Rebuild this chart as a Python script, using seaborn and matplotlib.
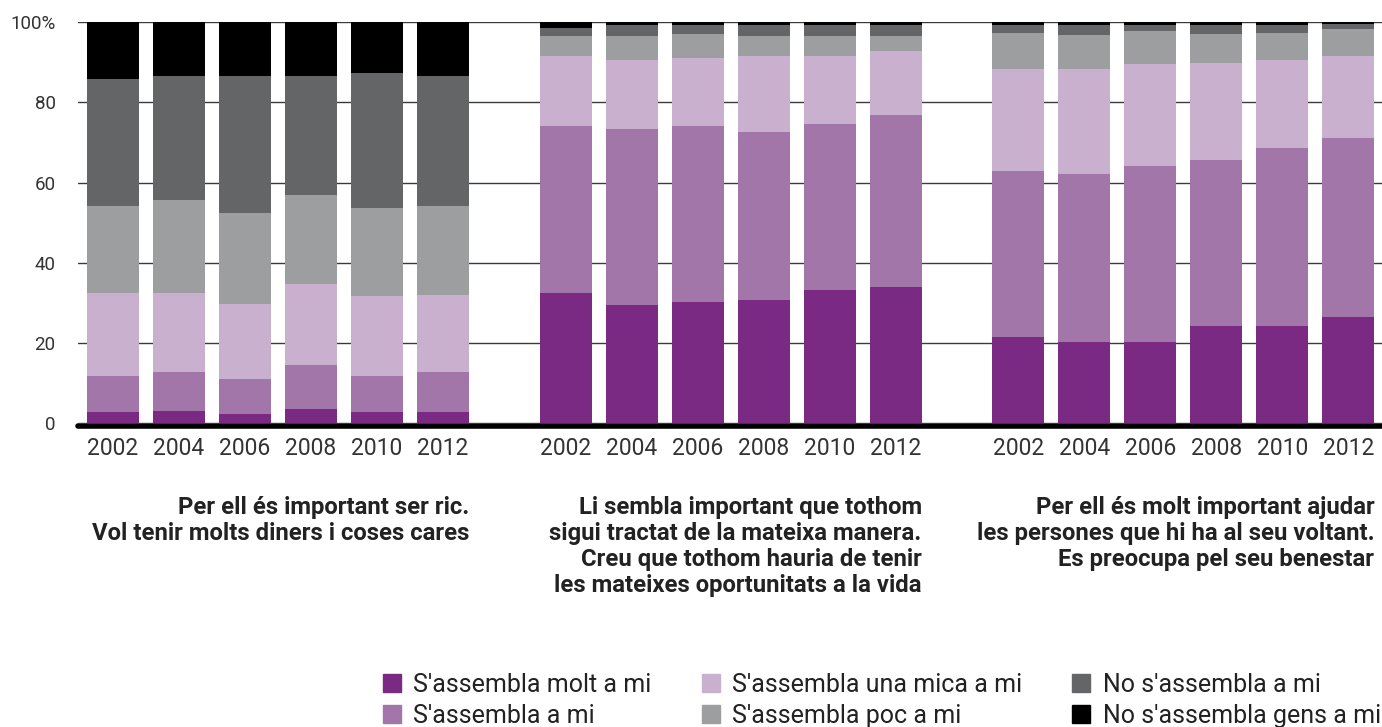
import matplotlib.pyplot as plt
import matplotlib.patches as mpatches
import numpy as np
import pandas as pd
import seaborn as sns

sns.set_style("white")
plt.rcParams['font.family'] = ['Roboto', 'DejaVu Sans']

years = ['2002', '2004', '2006', '2008', '2010', '2012']
categories = ["S'assembla molt a mi", "S'assembla a mi", "S'assembla una mica a mi",
              "S'assembla poc a mi", "No s'assembla a mi", "No s'assembla gens a mi"]
colors = ['#7b2a84', '#a276a8', '#c9b0ce', '#9d9ea0', '#646567', '#000000']
group_titles = [
    "Per ell és important ser ric.\nVol tenir molts diners i coses cares",
    "Li sembla important que tothom\nsigui tractat de la mateixa manera.\nCreu que tothom hauria de tenir\nles mateixes oportunitats a la vida",
    "Per ell és molt important ajudar\nles persones que hi ha al seu voltant.\nEs preocupa pel seu benestar",
]

# values per category: 3 groups x 6 years
molt = [2.8, 3.1, 2.3, 3.6, 2.8, 2.8,
        32.5, 29.5, 30.3, 30.7, 33.2, 33.9,
        21.5, 20.3, 20.3, 24.3, 24.3, 26.5]
assembla = [9.0, 9.7, 8.7, 10.9, 9.0, 10.0,
            41.6, 43.9, 43.8, 41.9, 41.4, 43.0,
            41.4, 41.9, 43.9, 41.4, 44.4, 44.6]
mica = [20.7, 19.7, 18.8, 20.2, 19.9, 19.2,
        17.5, 17.2, 17.0, 19.0, 17.0, 15.9,
        25.4, 26.1, 25.4, 24.1, 21.9, 20.5]
poc = [21.7, 23.2, 22.7, 22.2, 22.0, 22.2,
       5.0, 6.0, 6.0, 5.0, 5.0, 3.8,
       9.0, 8.5, 8.2, 7.3, 6.7, 6.7]
no = [31.7, 30.9, 34.1, 29.7, 33.7, 32.4,
      2.0, 2.7, 2.2, 2.7, 2.7, 2.7,
      2.0, 2.5, 1.5, 2.2, 2.0, 1.2]
gens = [14.1, 13.4, 13.4, 13.4, 12.6, 13.4,
        1.4, 0.7, 0.7, 0.7, 0.7, 0.7,
        0.7, 0.7, 0.7, 0.7, 0.7, 0.5]

GROUP_STEP = 6.86
BAR_W = 0.79

pos = [i + g * GROUP_STEP for g in range(3) for i in range(len(years))]
df = pd.DataFrame({'pos': pos})
cum = np.cumsum(np.array([molt, assembla, mica, poc, no, gens]), axis=0)
for k, cat in enumerate(categories):
    df[cat] = cum[k]

fig = plt.figure(figsize=(13.82, 7.27), dpi=100)
ax = fig.add_axes([0.0564, 0.4177, 0.9436, 0.552])

# stacked bars: draw cumulative totals from top layer down
for cat, color in reversed(list(zip(categories, colors))):
    sns.barplot(data=df, x='pos', y=cat, native_scale=True, width=BAR_W,
                color=color, saturation=1, errorbar=None, linewidth=0, ax=ax)

ax.set_ylim(0, 100)
ax.set_xlim(-0.53, 19.23)
ax.set_yticks([0, 20, 40, 60, 80, 100])
ax.set_yticklabels(['0', '20', '40', '60', '80', '100%'], fontsize=13.5,
                   color='#333333')
ax.set_xticks(pos)
ax.set_xticklabels(years * 3, fontsize=16.5, color='#333333')
ax.tick_params(axis='both', length=0)
ax.tick_params(axis='y', pad=16)
ax.tick_params(axis='x', pad=10)
ax.set_xlabel('')
ax.set_ylabel('')
ax.yaxis.grid(True, color='#3a3a3a', lw=1)
ax.set_axisbelow(True)
for s in ax.spines.values():
    s.set_visible(False)
ax.axhline(-0.6, color='black', lw=4, zorder=5, clip_on=False)

# group titles, right-aligned at each group's right edge
for g, title in enumerate(group_titles):
    xr = 5 + g * GROUP_STEP + BAR_W / 2
    ax.text(xr, -0.18, title, transform=ax.get_xaxis_transform(), ha='right',
            va='top', multialignment='right', fontsize=17.2, fontweight='bold',
            color='#222222', linespacing=1.17)

handles = [mpatches.Patch(color=c, label=l) for c, l in zip(colors, categories)]
fig.legend(handles=handles, ncol=3, loc='upper left',
           bbox_to_anchor=(0.268, 0.092), frameon=False,
           handlelength=0.72, handleheight=0.72, handletextpad=0.5,
           labelspacing=0.3, columnspacing=2.0, borderpad=0,
           prop={'size': 18}, labelcolor='#222222')

fig.savefig('out.png', dpi=100)
